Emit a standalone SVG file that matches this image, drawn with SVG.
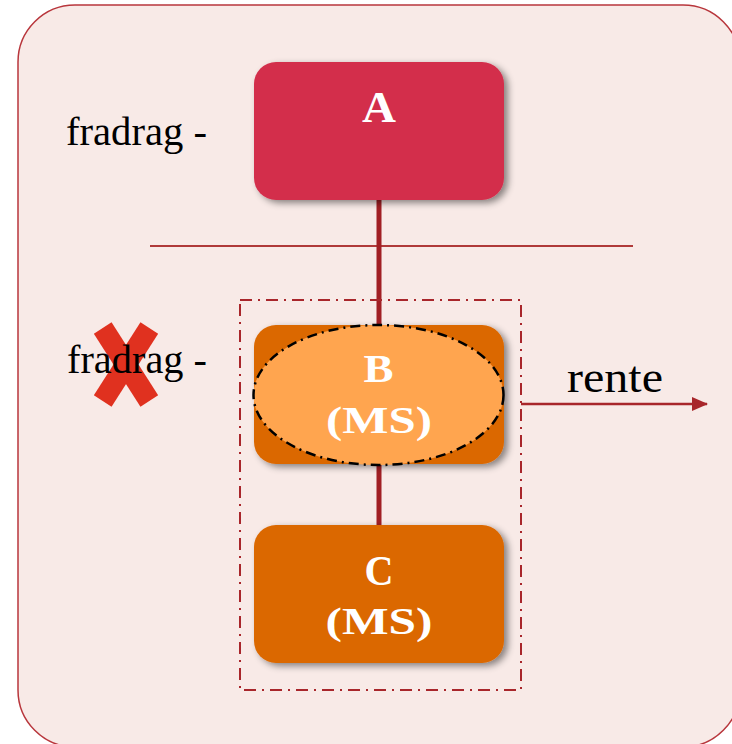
<svg xmlns="http://www.w3.org/2000/svg" width="732" height="744" viewBox="0 0 732 744">
  <defs>
    <filter id="shadow" x="-20%" y="-20%" width="140%" height="150%">
      <feDropShadow dx="4" dy="3" stdDeviation="3.5" flood-color="#000" flood-opacity="0.45"/>
    </filter>
    <marker id="arrowhead" viewBox="0 0 16 14" refX="15" refY="7" markerWidth="16" markerHeight="14" markerUnits="userSpaceOnUse" orient="auto">
      <path d="M0,0 L16,7 L0,14 Z" fill="#A8262B"/>
    </marker>
  </defs>
  <style>
    .panel { fill: #F8EAE7; stroke: #B8363C; stroke-width: 1.5; }
    .label { font-family: "Liberation Serif", "Times New Roman", serif; fill: #000; }
    .nodeText { font-family: "Liberation Serif", "Times New Roman", serif; font-weight: bold; fill: #fff; text-anchor: middle; }
    .box { filter: url(#shadow); }
    .link { stroke: #A11F24; stroke-width: 5; fill: none; }
    .group { fill: none; stroke: #A8262B; stroke-width: 2; stroke-dasharray: 12 6 2 6; }
  </style>

  <!-- background panel -->
  <rect class="panel" x="18" y="5" width="722" height="742" rx="57" ry="57"/>

  <!-- divider line -->
  <line x1="150" y1="246" x2="633" y2="246" stroke="#B03A3A" stroke-width="2"/>

  <!-- cross behind the second label -->
  <g id="cross">
    <line x1="102.7" y1="328" x2="149.3" y2="401" stroke="#E0311F" stroke-width="21"/>
    <line x1="149.3" y1="328" x2="102.7" y2="401" stroke="#E0311F" stroke-width="21"/>
  </g>

  <!-- side labels -->
  <text class="label" x="66" y="145" font-size="39" textLength="141" lengthAdjust="spacingAndGlyphs">fradrag -</text>
  <text class="label" x="67" y="373" font-size="39" textLength="140" lengthAdjust="spacingAndGlyphs">fradrag -</text>

  <!-- connectors -->
  <g id="connectors">
    <line class="link" x1="379" y1="200" x2="379" y2="326"/>
    <line class="link" x1="379" y1="464" x2="379" y2="526"/>
    <line x1="521" y1="404" x2="707" y2="404" stroke="#A8262B" stroke-width="2.5" marker-end="url(#arrowhead)"/>
  </g>

  <!-- grouping frame around B and C -->
  <rect id="group-frame" class="group" x="240" y="300" width="281" height="390"/>

  <!-- node A -->
  <g id="node-a">
    <rect class="box" x="254" y="62" width="250" height="138" rx="22" fill="#D32F4C"/>
    <text class="nodeText" x="379" y="122" font-size="44" textLength="34" lengthAdjust="spacingAndGlyphs">A</text>
  </g>

  <!-- node B -->
  <g id="node-b">
    <rect class="box" x="254" y="325" width="250" height="139" rx="22" fill="#DB6800"/>
    <ellipse cx="378.5" cy="395" rx="125" ry="70" fill="#FFA54F" stroke="#000" stroke-width="2.5" stroke-dasharray="10 5 2 5"/>
    <text class="nodeText" x="378.5" y="382" font-size="41" textLength="30" lengthAdjust="spacingAndGlyphs">B</text>
    <text class="nodeText" x="379" y="433" font-size="37" textLength="106" lengthAdjust="spacingAndGlyphs">(MS)</text>
  </g>

  <!-- node C -->
  <g id="node-c">
    <rect class="box" x="254" y="525" width="250" height="138" rx="22" fill="#DB6800"/>
    <text class="nodeText" x="379" y="585" font-size="42" textLength="29" lengthAdjust="spacingAndGlyphs">C</text>
    <text class="nodeText" x="379" y="634" font-size="37" textLength="107" lengthAdjust="spacingAndGlyphs">(MS)</text>
  </g>

  <!-- outgoing label -->
  <text class="label" x="567" y="392" font-size="45" textLength="96" lengthAdjust="spacingAndGlyphs">rente</text>
</svg>
